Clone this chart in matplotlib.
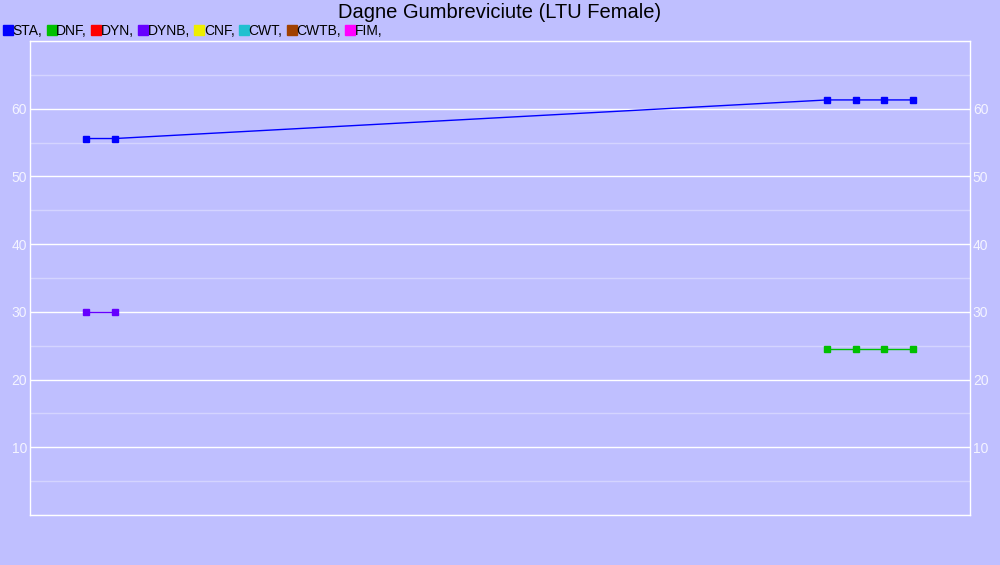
import matplotlib.pyplot as plt
from matplotlib.lines import Line2D
from matplotlib.ticker import MultipleLocator

plt.rcParams['font.family'] = ['Liberation Sans', 'DejaVu Sans']

title = 'Dagne Gumbreviciute (LTU Female)'

disciplines = ['STA', 'DNF', 'DYN', 'DYNB', 'CNF', 'CWT', 'CWTB', 'FIM']
colors = ['#0000ff', '#00c000', '#ff0000', '#6600ff', '#eeee00', '#20c0d0', '#a04000', '#ff00ff']

# x in event order position (0..100 of the time axis)
sta_x = [5.96, 9.04, 84.8, 87.9, 90.9, 93.9]
sta_y = [55.6, 55.6, 61.3, 61.3, 61.3, 61.3]
dynb_x = [5.96, 9.04]
dynb_y = [30, 30]
dnf_x = [84.8, 87.9, 90.9, 93.9]
dnf_y = [24.5, 24.5, 24.5, 24.5]

bg = '#bfbfff'

fig = plt.figure(figsize=(10, 5.65), dpi=100, facecolor=bg)
ax = fig.add_axes([0.03, 0.0885, 0.94, 0.8389], facecolor=bg)

ax.plot(sta_x, sta_y, color=colors[0], lw=1, marker='s', ms=4.5, zorder=3)
ax.plot(dnf_x, dnf_y, color=colors[1], lw=1, marker='s', ms=4.5, zorder=3)
ax.plot(dynb_x, dynb_y, color=colors[3], lw=1, marker='s', ms=4.5, zorder=3)

ax.set_xlim(0, 100)
ax.set_ylim(0, 70)
ax.yaxis.set_major_locator(MultipleLocator(10))
ax.yaxis.set_minor_locator(MultipleLocator(5))
ax.grid(which='major', axis='y', color='white', lw=1)
ax.grid(which='minor', axis='y', color='#d4d4ff', lw=1)
ax.set_axisbelow(True)
ax.set_xticks([])
ax.set_yticks([10, 20, 30, 40, 50, 60])
ax.tick_params(axis='y', which='both', length=0, labelsize=10, colors='#f4f4ff',
               labelright=True, pad=2)
for s in ax.spines.values():
    s.set_color('white')
    s.set_linewidth(1)

fig.text(0.5, 0.978, title, ha='center', va='center', fontsize=14.5, color='black')

handles = [Line2D([], [], ls='none', marker='s', ms=7, color=c) for c in colors]
fig.legend(handles, [d + ',' for d in disciplines], loc='upper left',
           bbox_to_anchor=(0.005, 0.958), ncol=8, frameon=False, fontsize=10,
           handlelength=0.45, handletextpad=0.1, columnspacing=0.45, borderaxespad=0,
           borderpad=0)

fig.savefig('out.png', dpi=100, facecolor=bg)
